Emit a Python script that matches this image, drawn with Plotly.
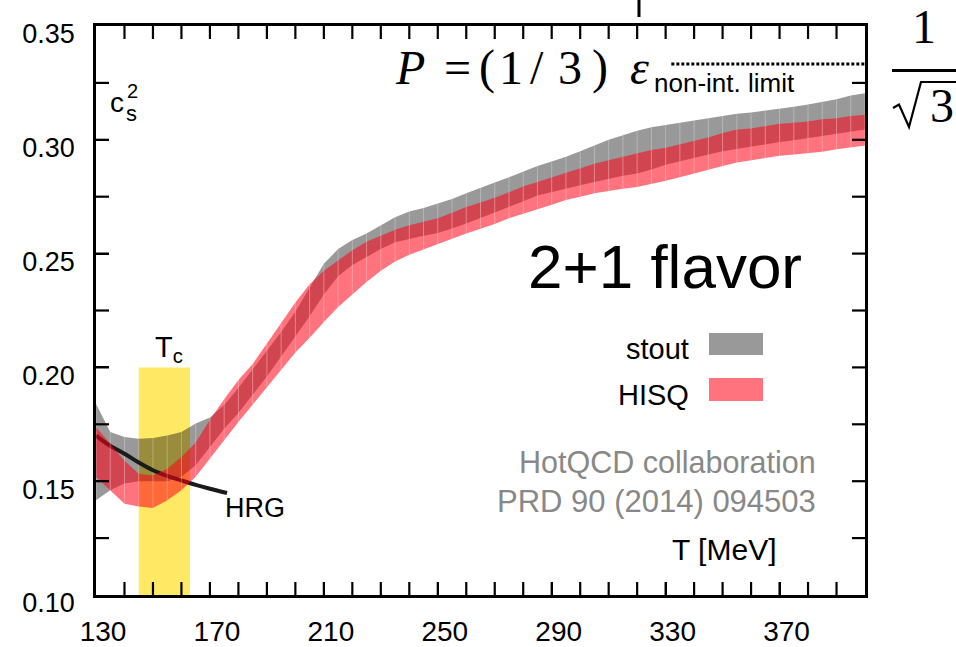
import plotly.graph_objects as go

# ---- data -------------------------------------------------------------
T = list(range(130, 401, 5))

hisq_hi = [0.1738, 0.1665, 0.1590, 0.1533, 0.1525, 0.1555, 0.1606, 0.1670, 0.1770, 0.1860,
           0.1945, 0.2015, 0.2105, 0.2195, 0.2285, 0.2365, 0.2425, 0.2470, 0.2515, 0.2552,
           0.2580, 0.2605, 0.2625, 0.2640, 0.2655, 0.2680, 0.2705, 0.2725, 0.2745, 0.2770,
           0.2795, 0.2815, 0.2835, 0.2855, 0.2875, 0.2895, 0.2910, 0.2925, 0.2940, 0.2955,
           0.2965, 0.2980, 0.2995, 0.3010, 0.3030, 0.3045, 0.3050, 0.3060, 0.3070, 0.3075,
           0.3080, 0.3090, 0.3095, 0.3105, 0.3110]
hisq_lo = [0.1518, 0.1460, 0.1401, 0.1389, 0.1382, 0.1416, 0.1460, 0.1520, 0.1600, 0.1680,
           0.1760, 0.1840, 0.1915, 0.1990, 0.2065, 0.2130, 0.2200, 0.2265, 0.2320, 0.2375,
           0.2425, 0.2465, 0.2495, 0.2520, 0.2542, 0.2565, 0.2588, 0.2610, 0.2630, 0.2655,
           0.2675, 0.2695, 0.2715, 0.2735, 0.2750, 0.2765, 0.2775, 0.2785, 0.2793, 0.2805,
           0.2820, 0.2835, 0.2850, 0.2868, 0.2885, 0.2900, 0.2910, 0.2920, 0.2930, 0.2935,
           0.2940, 0.2948, 0.2958, 0.2968, 0.2975]
stout_hi = [0.1840, 0.1716, 0.1694, 0.1687, 0.1690, 0.1701, 0.1716, 0.1753, 0.1780, 0.1835,
            0.1910, 0.1990, 0.2070, 0.2155, 0.2245, 0.2350, 0.2455, 0.2520, 0.2560, 0.2588,
            0.2625, 0.2660, 0.2685, 0.2700, 0.2720, 0.2740, 0.2765, 0.2790, 0.2812, 0.2835,
            0.2860, 0.2885, 0.2905, 0.2925, 0.2950, 0.2975, 0.3000, 0.3020, 0.3040, 0.3055,
            0.3065, 0.3075, 0.3085, 0.3095, 0.3105, 0.3115, 0.3120, 0.3128, 0.3135, 0.3145,
            0.3155, 0.3165, 0.3178, 0.3195, 0.3205]
stout_lo = [0.1416, 0.1460, 0.1490, 0.1500, 0.1500, 0.1500, 0.1520, 0.1570, 0.1650, 0.1730,
            0.1800, 0.1880, 0.1960, 0.2045, 0.2135, 0.2225, 0.2320, 0.2400, 0.2450, 0.2486,
            0.2520, 0.2550, 0.2565, 0.2578, 0.2590, 0.2610, 0.2632, 0.2655, 0.2680, 0.2705,
            0.2730, 0.2755, 0.2770, 0.2785, 0.2800, 0.2815, 0.2830, 0.2842, 0.2852, 0.2870,
            0.2890, 0.2905, 0.2920, 0.2935, 0.2950, 0.2960, 0.2970, 0.2980, 0.2990, 0.2998,
            0.3005, 0.3015, 0.3025, 0.3035, 0.3045]

hrg_T = [130, 135, 140, 145, 150, 155, 160, 165, 170, 176]
hrg_cs2 = [0.1700, 0.1655, 0.1621, 0.1582, 0.1548, 0.1523, 0.1503, 0.1484, 0.1467, 0.1448]

tc_range = [145, 163]
tc_top = 0.20

nonint_T = [332, 400]
nonint_cs2 = [1 / 3, 1 / 3]

x_range = [130, 400]
y_range = [0.10, 0.35]
x_labels = list(range(130, 401, 40))
y_labels = [0.10, 0.15, 0.20, 0.25, 0.30, 0.35]
x_all_ticks = list(range(130, 401, 10))
y_all_ticks = [round(0.10 + 0.025 * i, 3) for i in range(11)]

# ---- styling ----------------------------------------------------------
GRAY = "rgba(0,0,0,0.40)"
RED = "rgba(255,0,20,0.55)"
YELLOW = "#FFE964"
SEAM = "rgba(255,255,255,0.28)"
SANS = "Liberation Sans"
SERIF = "Liberation Serif"
TICK_PX = 13

W, H = 956, 647
ML, MR, MT, MB = 96, 91, 26, 52
PW, PH = W - ML - MR, H - MT - MB


def px(x):
    return (x - ML) / PW


def py(y):
    return (H - MB - y) / PH


def band(lo, hi, color, name):
    return go.Scatter(x=T + T[::-1], y=hi + lo[::-1], fill="toself", fillcolor=color,
                      line=dict(width=0), mode="lines", name=name, hoverinfo="skip",
                      showlegend=False)


def seams(lo, hi):
    xs, ys = [], []
    for t, a, b in zip(T, lo, hi):
        xs += [t, t, None]
        ys += [a, b, None]
    return go.Scatter(x=xs, y=ys, mode="lines", line=dict(color=SEAM, width=1),
                      hoverinfo="skip", showlegend=False)


def frame_ticks():
    # inward tick marks on all four sides of the frame
    dx = TICK_PX * (x_range[1] - x_range[0]) / PW
    dy = TICK_PX * (y_range[1] - y_range[0]) / PH
    xs, ys = [], []
    for t in x_all_ticks[1:-1]:
        xs += [t, t, None, t, t, None]
        ys += [y_range[0], y_range[0] + dy, None, y_range[1], y_range[1] - dy, None]
    for v in y_all_ticks[1:-1]:
        xs += [x_range[0], x_range[0] + dx, None, x_range[1], x_range[1] - dx, None]
        ys += [v, v, None, v, v, None]
    return go.Scatter(x=xs, y=ys, mode="lines", line=dict(color="black", width=2.2),
                      hoverinfo="skip", showlegend=False, cliponaxis=False)


fig = go.Figure()
fig.add_trace(band(stout_lo, stout_hi, GRAY, "stout"))
fig.add_trace(seams(stout_lo, stout_hi))
fig.add_trace(go.Scatter(x=hrg_T, y=hrg_cs2, mode="lines", line=dict(color="#1a1a1a", width=4),
                         line_shape="spline", showlegend=False, hoverinfo="skip"))
fig.add_trace(band(hisq_lo, hisq_hi, RED, "HISQ"))
fig.add_trace(seams(hisq_lo, hisq_hi))
fig.add_trace(go.Scatter(x=nonint_T, y=nonint_cs2, mode="lines",
                         line=dict(color="black", width=3, dash="3px,2px"),
                         showlegend=False, hoverinfo="skip"))
fig.add_trace(frame_ticks())

shapes = [
    dict(type="rect", xref="x", yref="y", x0=tc_range[0], x1=tc_range[1], y0=y_range[0], y1=tc_top,
         fillcolor=YELLOW, line=dict(width=0), layer="below"),
    # legend swatches
    dict(type="rect", xref="paper", yref="paper", x0=px(709), x1=px(763), y0=py(355), y1=py(333),
         fillcolor=GRAY, line=dict(width=0)),
    dict(type="rect", xref="paper", yref="paper", x0=px(709), x1=px(763), y0=py(401), y1=py(378),
         fillcolor=RED, line=dict(width=0)),
    # 1/sqrt(3): fraction bar and radical sign
    dict(type="line", xref="paper", yref="paper", x0=px(892), x1=px(956), y0=py(70.5), y1=py(70.5),
         line=dict(color="black", width=3)),
    dict(type="path", xref="paper", yref="paper",
         path=f"M {px(893)},{py(108)} L {px(899)},{py(104.5)} L {px(909)},{py(127)} "
              f"L {px(921)},{py(82)} L {px(957)},{py(82)}",
         line=dict(color="black", width=2.2)),
    dict(type="line", xref="paper", yref="paper", x0=px(639), x1=px(639), y0=py(0), y1=py(17),
         line=dict(color="black", width=3)),
]

anns = []


def ann(text, x, y, size, xanchor="center", color="black", family=SANS):
    anns.append(dict(text=text, x=px(x), y=py(y), xref="paper", yref="paper", showarrow=False,
                     xanchor=xanchor, yanchor="middle",
                     font=dict(size=size, color=color, family=family)))


ann("2+1 flavor", 665, 266, 62)
ann("stout", 691, 349, 29, "right")
ann("HISQ", 691, 395, 29, "right")
ann("HotQCD collaboration", 818, 462, 30.5, "right", "#888888")
ann("PRD 90 (2014) 094503", 818, 501, 31, "right", "#888888")
ann("T [MeV]", 778, 549, 30, "right")
ann("HRG", 255, 508, 27)
ann("T<sub>c</sub>", 169, 349, 29)
ann("c", 117, 102, 28)
ann("2", 132, 91, 20)
ann("s", 131.5, 113, 22)
ann("non-int. limit", 652, 83, 26, "left")
# P = (1/3) epsilon, set glyph by glyph
for g, cx in [("<i>P</i>", 410), ("=", 457.5), ("(", 487.5), ("1", 510.5), ("/", 537),
              ("3", 570), (")", 600), ("<i>ε</i>", 639)]:
    ann(g, cx, 67, 48, family=SERIF)
ann("1", 924, 27, 48, family=SERIF)
ann("3", 942, 106, 48, family=SERIF)

frame = dict(showline=True, linecolor="black", linewidth=2.5, mirror=True,
             ticks="inside", ticklen=TICK_PX, tickwidth=2.2, tickcolor="black",
             showgrid=False, zeroline=False, automargin=False)

fig.update_layout(
    width=W, height=H, margin=dict(l=ML, r=MR, t=MT, b=MB, pad=0, autoexpand=False),
    paper_bgcolor="white", plot_bgcolor="white", showlegend=False,
    xaxis=dict(range=x_range, tickvals=x_labels, ticktext=[str(v) for v in x_labels],
               tickfont=dict(family=SANS, size=28, color="black"),
               ticklabelstandoff=10, ticklabelshift=7, **frame),
    yaxis=dict(range=y_range, tickvals=y_labels, ticktext=[f"{v:.2f}" for v in y_labels],
               tickfont=dict(family=SANS, size=27, color="black"),
               ticklabelstandoff=13, ticklabelshift=8, **frame),
    shapes=shapes, annotations=anns,
)

fig.write_html("out.html")
